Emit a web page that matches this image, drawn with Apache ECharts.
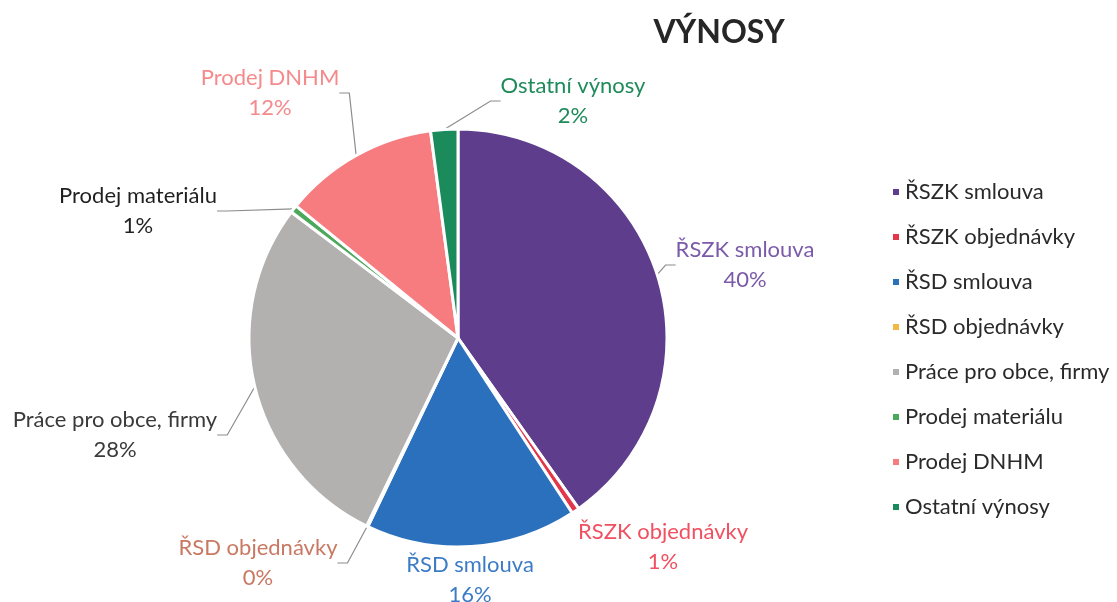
<!DOCTYPE html>
<html>
<head>
<meta charset="utf-8">
<script src="https://cdn.jsdelivr.net/npm/echarts@6/dist/echarts.min.js"></script>
<style>
  html, body { margin: 0; padding: 0; background: #fff; }
  #Pie { width: 1117px; height: 602px; }
</style>
</head>
<body>
<div id="Pie"></div>
<script>
// Data
var categories = ['ŘSZK smlouva', 'ŘSZK objednávky', 'ŘSD smlouva', 'ŘSD objednávky',
    'Práce pro obce, firmy', 'Prodej materiálu', 'Prodej DNHM', 'Ostatní výnosy'];
var shares = [40.2, 0.6, 16.3, 0.1, 28.1, 0.6, 12.0, 2.1];

// Styles
var sliceColors = ['#5e3d8c', '#e4364b', '#2b70bd', '#f4b943', '#b3b1b0', '#4ca85a', '#f77c80', '#1c8b5c'];
var labelColors = ['#7b5aa9', '#f0505f', '#3c7cc6', '#c97862', '#3a3a3a', '#1f1f1f', '#f58a8c', '#1f8a5a'];
var hideLine = [false, true, true, false, false, false, false, false];
// Label block centres (px), placed by hand like the original
var labelCenters = [[745, 265], [663, 547], [470, 580], [258, 563],
    [115, 435], [138, 211], [270, 93], [573, 101]];

var FONT = 'Lato, "Open Sans", sans-serif';

function buildData() {
    return categories.map(function (name, i) {
        return {
            name: name,
            value: shares[i],
            itemStyle: { color: sliceColors[i] },
            label: { color: labelColors[i] },
            labelLine: { show: !hideLine[i] }
        };
    });
}

function chartPieOpts() {
    return {
        backgroundColor: '#ffffff',
        title: {
            text: 'VÝNOSY',
            left: 714,
            top: 12,
            textAlign: 'center',
            textStyle: { fontFamily: FONT, fontSize: 32, fontWeight: 'bold', color: '#262626' }
        },
        legend: {
            orient: 'vertical',
            left: 886,
            top: 176,
            itemWidth: 8,
            itemHeight: 8,
            itemGap: 23,
            icon: 'rect',
            textStyle: { fontFamily: FONT, fontSize: 22, lineHeight: 22, color: '#2a2a2a' },
            data: categories
        },
        series: [{
            name: 'Výnosy',
            type: 'pie',
            center: [458, 338],
            radius: [0, 209],
            startAngle: 90,
            clockwise: true,
            avoidLabelOverlap: false,
            itemStyle: { borderColor: '#ffffff', borderWidth: 3 },
            label: {
                show: true,
                position: 'outside',
                fontFamily: FONT,
                fontSize: 22,
                lineHeight: 30,
                formatter: function (p) {
                    return p.name + '\n' + Math.round(p.percent) + '%';
                }
            },
            labelLine: {
                show: true,
                length: 14,
                length2: 10,
                lineStyle: { color: '#8c8c8c', width: 1.2 }
            },
            labelLayout: function (params) {
                var c = labelCenters[params.dataIndex];
                return { x: c[0], y: c[1], align: 'center', verticalAlign: 'middle' };
            },
            data: buildData()
        }]
    };
}

var pieChart = echarts.init(document.getElementById('Pie'));
pieChart.setOption(chartPieOpts());
</script>
</body>
</html>
